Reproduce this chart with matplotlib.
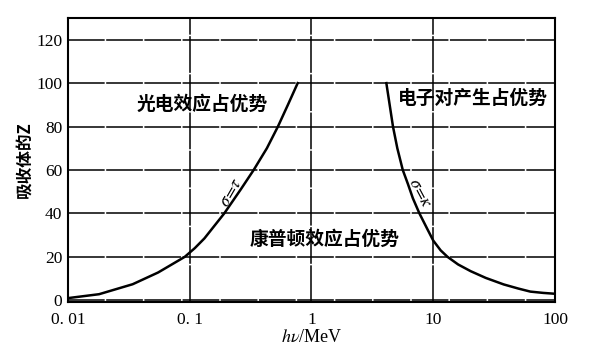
import matplotlib.pyplot as plt
import numpy as np

plt.rcParams['font.family'] = ['Noto Sans CJK SC', 'DejaVu Sans']
plt.rcParams['mathtext.fontset'] = 'stix'

# sigma = tau boundary (photoelectric / Compton)
e_left = [0.01, 0.018, 0.034, 0.055, 0.091, 0.11, 0.132, 0.192, 0.262,
          0.335, 0.43, 0.53, 0.64, 0.77]
z_left = [1, 2.8, 7.4, 12.8, 20, 24, 28.5, 40, 51,
          60, 70, 80, 90, 100]

# sigma = kappa boundary (Compton / pair production)
e_right = [4.12, 4.67, 5.07, 5.62, 6.2, 6.8, 7.7, 9.0, 10, 11.5, 13.1,
           16, 20.3, 27, 37.9, 50, 62.7, 80, 100]
z_right = [100, 80, 70, 60, 53.5, 47, 40, 32.5, 27.5, 23, 20,
           16.5, 13.4, 10.3, 7.3, 5.4, 4, 3.4, 3]

x_ticks = [0.01, 0.1, 1, 10, 100]
x_labels = ['0. 01', '0. 1', '1', '10', '100']
y_ticks = [0, 20, 40, 60, 80, 100, 120]

fig = plt.figure(figsize=(6, 3.57), dpi=100)
ax = fig.add_axes([0.1133, 0.154, 0.8117, 0.7956])

ax.plot(e_left, z_left, color='k', lw=1.8)
ax.plot(e_right, z_right, color='k', lw=1.8)

ax.set_xscale('log')
ax.set_xlim(0.01, 100)
ax.set_ylim(-0.8, 130)
ax.set_xticks(x_ticks)
ax.set_xticklabels(x_labels)
ax.set_yticks(y_ticks)
ax.minorticks_off()
ax.tick_params(axis='y', length=0, pad=4)
ax.tick_params(axis='x', length=0, pad=7)
for lab in ax.get_xticklabels() + ax.get_yticklabels():
    lab.set_fontfamily('Liberation Serif')
    lab.set_fontsize(12.5)

ax.grid(True, color='k', lw=1.1, dashes=(24, 1.0))
for s in ax.spines.values():
    s.set_linewidth(1.5)

txt = dict(fontsize=13.5, fontweight='bold', ha='center', va='center')
ax.text(0.126, 90, '光电效应占优势', **txt)
ax.text(21, 93, '电子对产生占优势', **txt)
ax.text(1.27, 28, '康普顿效应占优势', **txt)

ax.text(0.215, 50, r'$\sigma\!=\!\tau$', fontsize=12.5, rotation=60,
        ha='center', va='center')
ax.text(7.8, 49.5, r'$\sigma\!=\!\kappa$', fontsize=12.5, rotation=-62,
        ha='center', va='center')

ax.set_ylabel('吸收体的Z', fontsize=12, fontweight='bold', labelpad=2)
ax.set_xlabel(r'$h\nu$/MeV', fontsize=13, fontfamily='Liberation Serif',
              labelpad=1)

fig.savefig('out.png', dpi=100)
